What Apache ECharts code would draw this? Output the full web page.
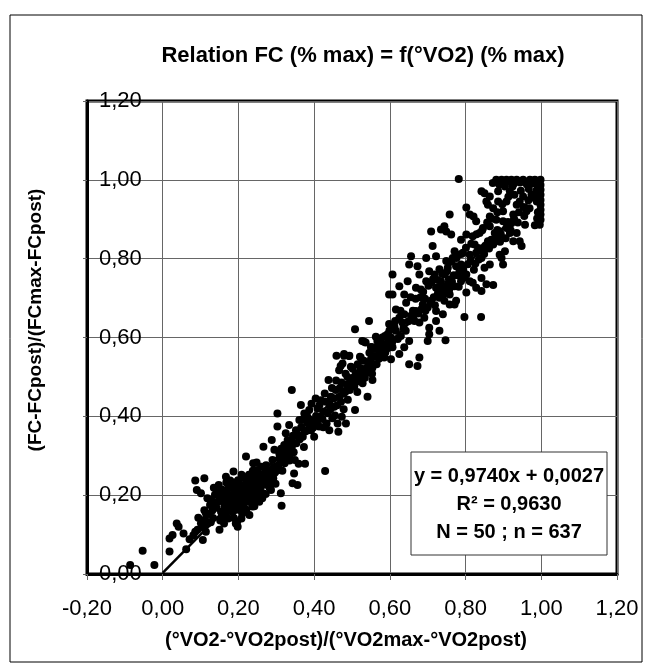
<!DOCTYPE html>
<html>
<head>
<meta charset="utf-8">
<script src="https://cdn.jsdelivr.net/npm/echarts@6/dist/echarts.min.js"></script>
<style>
  html, body { margin: 0; padding: 0; background: #fff; }
  #chart { width: 645px; height: 668px; }
</style>
</head>
<body>
<div id="chart"></div>
<script>
// Relation FC (%max) = f(VO2) (%max) - nuage de points + droite de regression

// valeurs : [x, y]
const pointsLow = [
  [-0.086, 0.023], [-0.053, 0.059], [-0.022, 0.023], [0.018, 0.057], [0.018, 0.090],
  [0.037, 0.128], [0.042, 0.120], [0.026, 0.099], [0.055, 0.103], [0.062, 0.063],
  [0.086, 0.107], [0.106, 0.086], [0.114, 0.107], [0.086, 0.237], [0.110, 0.243],
  [0.090, 0.213], [0.101, 0.205], [0.110, 0.162], [0.114, 0.154], [0.119, 0.128],
  [0.128, 0.188], [0.139, 0.179], [0.148, 0.226], [0.151, 0.196], [0.154, 0.158],
  [0.150, 0.112], [0.163, 0.171], [0.167, 0.247], [0.169, 0.145], [0.174, 0.221],
  [0.176, 0.196], [0.180, 0.179], [0.185, 0.158], [0.187, 0.260], [0.193, 0.128],
  [0.198, 0.120], [0.198, 0.205], [0.202, 0.230], [0.207, 0.179], [0.211, 0.154],
  [0.213, 0.247], [0.220, 0.213], [0.220, 0.298], [0.224, 0.188], [0.229, 0.150],
  [0.233, 0.230], [0.237, 0.171], [0.239, 0.281], [0.244, 0.196], [0.246, 0.247],
  [0.250, 0.264], [0.255, 0.183], [0.259, 0.221], [0.264, 0.205], [0.266, 0.323],
  [0.268, 0.255], [0.273, 0.276], [0.277, 0.234], [0.281, 0.221], [0.286, 0.213],
  [0.288, 0.340], [0.290, 0.289], [0.295, 0.315], [0.299, 0.272], [0.303, 0.407],
  [0.303, 0.374], [0.308, 0.306], [0.312, 0.205], [0.314, 0.173], [0.317, 0.285],
  [0.321, 0.327], [0.325, 0.357], [0.330, 0.340], [0.334, 0.378], [0.339, 0.315],
  [0.343, 0.230], [0.347, 0.255], [0.349, 0.289],
  [0.142, 0.168], [0.153, 0.187], [0.161, 0.182], [0.171, 0.203], [0.183, 0.193],
  [0.191, 0.212], [0.203, 0.198], [0.212, 0.224], [0.218, 0.206], [0.232, 0.236],
  [0.241, 0.218], [0.252, 0.238], [0.158, 0.149], [0.172, 0.162], [0.181, 0.171],
  [0.194, 0.163], [0.205, 0.184], [0.214, 0.172], [0.226, 0.193], [0.234, 0.181],
  [0.243, 0.204], [0.254, 0.212], [0.262, 0.234], [0.271, 0.251], [0.279, 0.263],
  [0.261, 0.272], [0.248, 0.283], [0.238, 0.262], [0.228, 0.252], [0.219, 0.241],
  [0.208, 0.252], [0.199, 0.238], [0.188, 0.232], [0.179, 0.218], [0.168, 0.232],
  [0.148, 0.208], [0.138, 0.201], [0.131, 0.161], [0.122, 0.152], [0.112, 0.138],
  [0.101, 0.129], [0.092, 0.112], [0.081, 0.098], [0.071, 0.088], [0.208, 0.141],
  [0.197, 0.133], [0.188, 0.142], [0.221, 0.163], [0.242, 0.172], [0.263, 0.192],
  [0.272, 0.203], [0.283, 0.226], [0.292, 0.243], [0.301, 0.262], [0.311, 0.284],
  [0.319, 0.302], [0.331, 0.309], [0.338, 0.334], [0.344, 0.351], [0.157, 0.214],
  [0.166, 0.192], [0.186, 0.184], [0.196, 0.176], [0.216, 0.196], [0.227, 0.214],
  [0.236, 0.198], [0.247, 0.229], [0.258, 0.248], [0.267, 0.227], [0.282, 0.241],
  [0.296, 0.257], [0.306, 0.276], [0.316, 0.262], [0.326, 0.293], [0.336, 0.302],
  [0.125, 0.175], [0.133, 0.142], [0.145, 0.183], [0.152, 0.136], [0.165, 0.207],
  [0.173, 0.141], [0.178, 0.237], [0.186, 0.201], [0.192, 0.189], [0.201, 0.214],
  [0.206, 0.162], [0.215, 0.205], [0.223, 0.229], [0.231, 0.199], [0.236, 0.248],
  [0.245, 0.184], [0.251, 0.226], [0.257, 0.199], [0.266, 0.244], [0.274, 0.232],
  [0.285, 0.258], [0.293, 0.271], [0.298, 0.229], [0.309, 0.292], [0.313, 0.318],
  [0.322, 0.281], [0.328, 0.321], [0.335, 0.288], [0.341, 0.322], [0.346, 0.309],
  [0.094, 0.143], [0.105, 0.118], [0.118, 0.192], [0.127, 0.131], [0.135, 0.219],
  [0.162, 0.128], [0.177, 0.184], [0.195, 0.224], [0.217, 0.182], [0.239, 0.208]
];

const pointsMid = [
  [0.352, 0.365], [0.356, 0.226], [0.359, 0.280], [0.361, 0.391], [0.365, 0.429],
  [0.370, 0.348], [0.374, 0.407], [0.376, 0.280], [0.382, 0.383], [0.387, 0.416],
  [0.391, 0.365], [0.396, 0.388], [0.400, 0.348], [0.404, 0.445], [0.409, 0.420],
  [0.413, 0.374], [0.417, 0.399], [0.426, 0.412], [0.429, 0.261], [0.433, 0.382],
  [0.438, 0.492], [0.440, 0.365], [0.444, 0.450], [0.448, 0.395], [0.453, 0.424],
  [0.457, 0.467], [0.459, 0.554], [0.462, 0.382], [0.464, 0.361], [0.466, 0.517],
  [0.471, 0.437], [0.473, 0.399], [0.475, 0.534], [0.479, 0.554], [0.482, 0.462],
  [0.484, 0.382], [0.488, 0.500], [0.493, 0.554], [0.497, 0.526], [0.501, 0.479],
  [0.508, 0.416], [0.510, 0.509], [0.514, 0.462], [0.521, 0.551], [0.528, 0.484],
  [0.532, 0.589], [0.537, 0.509], [0.541, 0.450], [0.545, 0.534], [0.550, 0.576],
  [0.554, 0.492], [0.558, 0.551], [0.563, 0.602], [0.341, 0.467],
  [0.357, 0.353], [0.366, 0.372], [0.378, 0.362], [0.386, 0.394], [0.397, 0.371],
  [0.405, 0.401], [0.414, 0.428], [0.422, 0.393], [0.431, 0.437], [0.443, 0.418],
  [0.452, 0.446], [0.461, 0.428], [0.468, 0.472], [0.477, 0.457], [0.486, 0.481],
  [0.494, 0.467], [0.503, 0.498], [0.512, 0.488], [0.523, 0.522], [0.534, 0.498],
  [0.543, 0.528], [0.552, 0.521], [0.561, 0.553], [0.571, 0.546], [0.579, 0.571],
  [0.588, 0.562], [0.596, 0.588], [0.492, 0.553], [0.479, 0.558], [0.470, 0.528],
  [0.508, 0.621], [0.523, 0.549], [0.527, 0.591], [0.536, 0.587], [0.545, 0.642],
  [0.550, 0.545], [0.554, 0.575], [0.554, 0.524], [0.567, 0.591], [0.572, 0.566],
  [0.580, 0.600], [0.585, 0.549], [0.589, 0.583], [0.594, 0.608], [0.598, 0.634],
  [0.353, 0.332], [0.362, 0.342], [0.368, 0.391], [0.373, 0.322], [0.381, 0.402],
  [0.389, 0.371], [0.393, 0.432], [0.402, 0.381], [0.408, 0.388], [0.418, 0.441],
  [0.424, 0.372], [0.428, 0.458], [0.436, 0.408], [0.441, 0.431], [0.447, 0.472],
  [0.455, 0.402], [0.458, 0.491], [0.466, 0.449], [0.472, 0.486], [0.478, 0.418],
  [0.483, 0.508], [0.489, 0.442], [0.496, 0.489], [0.502, 0.521], [0.506, 0.476],
  [0.515, 0.532], [0.519, 0.496], [0.526, 0.508], [0.531, 0.541], [0.538, 0.522],
  [0.546, 0.561], [0.553, 0.508], [0.557, 0.571], [0.565, 0.532], [0.569, 0.578],
  [0.575, 0.588], [0.582, 0.552], [0.587, 0.604], [0.593, 0.572], [0.599, 0.618]
];

const pointsHigh = [
  [0.782, 1.002], [0.881, 1.000], [0.895, 1.000], [0.908, 1.000], [0.921, 1.000],
  [0.935, 1.000], [0.952, 1.000], [0.970, 1.000], [0.983, 1.000], [0.998, 1.000],
  [0.998, 0.987], [0.998, 0.975], [0.998, 0.962], [0.998, 0.949], [0.998, 0.937],
  [0.998, 0.924], [0.998, 0.912], [0.998, 0.899], [0.996, 0.886], [0.983, 0.885],
  [0.988, 0.945], [0.967, 0.977], [0.952, 0.958], [0.943, 0.945], [0.924, 0.983],
  [0.917, 0.971], [0.904, 0.983], [0.886, 0.971], [0.961, 0.920], [0.957, 0.886],
  [0.935, 0.937], [0.926, 0.912], [0.921, 0.890], [0.908, 0.945], [0.899, 0.920],
  [0.886, 0.945], [0.873, 0.928], [0.864, 0.958], [0.850, 0.966], [0.842, 0.971],
  [0.855, 0.945], [0.864, 0.907], [0.859, 0.937], [0.881, 0.899], [0.899, 0.895],
  [0.917, 0.865], [0.935, 0.865], [0.943, 0.844], [0.948, 0.832], [0.926, 0.844],
  [0.908, 0.878], [0.890, 0.869], [0.877, 0.865], [0.864, 0.882], [0.846, 0.878],
  [0.837, 0.865], [0.828, 0.895], [0.821, 0.907], [0.802, 0.930], [0.811, 0.912],
  [0.819, 0.857], [0.824, 0.836], [0.833, 0.827], [0.842, 0.802], [0.859, 0.844],
  [0.873, 0.836], [0.881, 0.853], [0.895, 0.802], [0.899, 0.785], [0.904, 0.819],
  [0.890, 0.810], [0.850, 0.777], [0.864, 0.785], [0.846, 0.827], [0.828, 0.815],
  [0.811, 0.810], [0.793, 0.815], [0.780, 0.810], [0.771, 0.819], [0.766, 0.802],
  [0.758, 0.912], [0.744, 0.882], [0.749, 0.869], [0.735, 0.874], [0.709, 0.869],
  [0.713, 0.832], [0.722, 0.806], [0.762, 0.861], [0.788, 0.848], [0.802, 0.861],
  [0.788, 0.785], [0.784, 0.768], [0.775, 0.781], [0.749, 0.794], [0.753, 0.777],
  [0.744, 0.760], [0.735, 0.743], [0.731, 0.773], [0.718, 0.760], [0.704, 0.768],
  [0.696, 0.743], [0.709, 0.739], [0.722, 0.726], [0.740, 0.726], [0.753, 0.735],
  [0.758, 0.709], [0.771, 0.730], [0.788, 0.743], [0.802, 0.760], [0.811, 0.743],
  [0.819, 0.739], [0.828, 0.726], [0.842, 0.718], [0.855, 0.735], [0.873, 0.733],
  [0.842, 0.751], [0.802, 0.714], [0.775, 0.693], [0.771, 0.684], [0.758, 0.684],
  [0.744, 0.693], [0.731, 0.701], [0.740, 0.659], [0.722, 0.667], [0.709, 0.693],
  [0.700, 0.676], [0.687, 0.684], [0.678, 0.760], [0.682, 0.722], [0.669, 0.726],
  [0.656, 0.806], [0.651, 0.785], [0.647, 0.743], [0.638, 0.709], [0.625, 0.730],
  [0.607, 0.760], [0.598, 0.709], [0.607, 0.709], [0.616, 0.671], [0.625, 0.650],
  [0.638, 0.659], [0.656, 0.655], [0.669, 0.667], [0.665, 0.642], [0.678, 0.638],
  [0.691, 0.650], [0.704, 0.625], [0.704, 0.608], [0.700, 0.591], [0.722, 0.642],
  [0.731, 0.617], [0.747, 0.593], [0.797, 0.652], [0.841, 0.652], [0.603, 0.600],
  [0.616, 0.617], [0.629, 0.604], [0.642, 0.617], [0.651, 0.591], [0.638, 0.575],
  [0.625, 0.558], [0.607, 0.575], [0.603, 0.545], [0.651, 0.532], [0.678, 0.549],
  [0.673, 0.528], [0.696, 0.802], [0.673, 0.781],
  [0.612, 0.628], [0.633, 0.638], [0.661, 0.668], [0.684, 0.672], [0.693, 0.698],
  [0.716, 0.702], [0.727, 0.712], [0.756, 0.748], [0.764, 0.742], [0.779, 0.758],
  [0.794, 0.771], [0.813, 0.794], [0.826, 0.788], [0.836, 0.821], [0.852, 0.833],
  [0.868, 0.848], [0.884, 0.873], [0.893, 0.862], [0.912, 0.893], [0.928, 0.902],
  [0.941, 0.918], [0.953, 0.931], [0.966, 0.948], [0.974, 0.962], [0.987, 0.972],
  [0.606, 0.588], [0.614, 0.642], [0.621, 0.596], [0.628, 0.668], [0.636, 0.624],
  [0.643, 0.688], [0.649, 0.641], [0.655, 0.702], [0.662, 0.648], [0.668, 0.698],
  [0.675, 0.661], [0.681, 0.702], [0.688, 0.716], [0.694, 0.668], [0.702, 0.731],
  [0.707, 0.688], [0.714, 0.748], [0.719, 0.682], [0.726, 0.746], [0.733, 0.728],
  [0.738, 0.762], [0.745, 0.712], [0.751, 0.768], [0.757, 0.722], [0.763, 0.792],
  [0.769, 0.758], [0.776, 0.802], [0.782, 0.729], [0.789, 0.812], [0.795, 0.752],
  [0.801, 0.828], [0.806, 0.786], [0.815, 0.838], [0.822, 0.772], [0.829, 0.862],
  [0.835, 0.798], [0.844, 0.872], [0.849, 0.812], [0.857, 0.892], [0.862, 0.826],
  [0.869, 0.901], [0.876, 0.842], [0.884, 0.918], [0.891, 0.843], [0.897, 0.938],
  [0.906, 0.852], [0.913, 0.957], [0.919, 0.872], [0.929, 0.962], [0.938, 0.892],
  [0.946, 0.972], [0.955, 0.908], [0.962, 0.988], [0.969, 0.928], [0.977, 0.991],
  [0.985, 0.952], [0.991, 0.978], [0.991, 0.918], [0.994, 0.993], [0.989, 0.902],
  [0.872, 0.992], [0.889, 0.988], [0.914, 0.995], [0.928, 0.991], [0.944, 0.993],
  [0.958, 0.994]
];

const vo2Ticks = [-0.2, 0, 0.2, 0.4, 0.6, 0.8, 1.0, 1.2];
const trendSlope = 0.9740;
const trendIntercept = 0.0027;
const trendRange = [0, 1];
const statsLines = ['y = 0,9740x + 0,0027', 'R² = 0,9630', 'N = 50 ; n = 637'];

const FONT = '"Liberation Sans", Arial, sans-serif';
const fmt = v => v.toFixed(2).replace('.', ',');

const chart = echarts.init(document.getElementById('chart'));

const trendLine = trendRange.map(x => [x, trendSlope * x + trendIntercept]);

const option = {
  animation: false,
  backgroundColor: '#fff',
  title: {
    text: 'Relation FC (% max) = f(°VO2) (% max)',
    left: 358,
    top: 40,
    textAlign: 'center',
    textStyle: { fontFamily: FONT, fontWeight: 'bold', fontSize: 22, color: '#000' }
  },
  grid: {
    left: 87, right: 28, top: 101, bottom: 94,
    show: true, borderColor: '#000', borderWidth: 3, backgroundColor: '#fff'
  },
  xAxis: {
    type: 'value',
    min: vo2Ticks[0],
    max: vo2Ticks[vo2Ticks.length - 1],
    interval: 0.2,
    axisLine: { onZero: false, lineStyle: { color: '#000', width: 3 } },
    axisTick: { show: true, length: 6, lineStyle: { color: '#666' } },
    splitLine: { lineStyle: { color: '#666', width: 1 } },
    axisLabel: {
      formatter: fmt, margin: 24, fontFamily: FONT, fontSize: 22, color: '#000'
    }
  },
  yAxis: {
    type: 'value',
    min: 0, max: 1.2, interval: 0.2,
    axisLine: { onZero: false, lineStyle: { color: '#000', width: 3 } },
    axisTick: { show: true, length: 4, lineStyle: { color: '#666' } },
    splitLine: { lineStyle: { color: '#666', width: 1 } },
    axisLabel: {
      inside: true, margin: 12, formatter: fmt,
      fontFamily: FONT, fontSize: 22, color: '#000'
    }
  },
  graphic: [
    {
      type: 'rect', z: -10, silent: true,
      shape: { x: 10, y: 15, width: 632, height: 647 },
      style: { fill: 'none', stroke: '#000', lineWidth: 1 }
    },
    {
      type: 'text', z: 100,
      x: 346, y: 640,
      style: {
        text: '(°VO2-°VO2post)/(°VO2max-°VO2post)',
        font: 'bold 20px ' + FONT, fill: '#000',
        align: 'center', verticalAlign: 'middle'
      }
    },
    {
      type: 'text', z: 100,
      x: 36, y: 320, rotation: Math.PI / 2,
      style: {
        text: '(FC-FCpost)/(FCmax-FCpost)',
        font: 'bold 19px ' + FONT, fill: '#000',
        align: 'center', verticalAlign: 'middle'
      }
    },
    {
      type: 'rect', z: 100,
      shape: { x: 411, y: 452, width: 196, height: 103 },
      style: { fill: '#fff', stroke: '#333', lineWidth: 1 }
    },
    ...statsLines.map((t, i) => ({
      type: 'text', z: 101,
      x: 509, y: 476 + i * 28,
      style: {
        text: t, font: 'bold 20px ' + FONT, fill: '#000',
        align: 'center', verticalAlign: 'middle'
      }
    }))
  ],
  series: [
    {
      type: 'scatter',
      data: pointsLow.concat(pointsMid, pointsHigh),
      symbol: 'circle',
      symbolSize: 8,
      itemStyle: { color: '#000', opacity: 1 },
      z: 3
    },
    {
      type: 'line',
      data: trendLine,
      showSymbol: false,
      lineStyle: { color: '#000', width: 2.5 },
      z: 4
    }
  ]
};

chart.setOption(option);
</script>
</body>
</html>
